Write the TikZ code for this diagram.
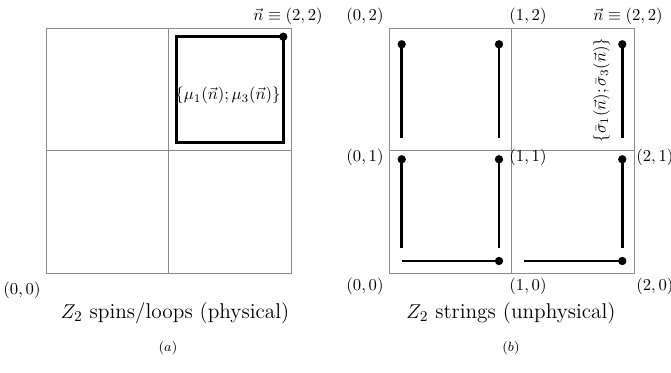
\documentclass[tikz,border=0pt]{standalone}
\begin{document}
\begin{tikzpicture}[x=0.6pt,y=-0.6pt,
  gridline/.style={draw=black!45,line width=0.6pt},
  strand/.style={line width=1.7pt,line cap=butt},
  site/.style={circle,fill=black,inner sep=0pt,minimum size=5pt},
  lbl/.style={inner sep=0pt,font=\normalsize},
  captext/.style={inner sep=0pt,font=\fontsize{12.8}{15}\selectfont},
  sublbl/.style={inner sep=0pt,font=\footnotesize}]
\useasboundingbox (0,0) rectangle (671,372);
% ---------- panel (a) ----------
\draw[gridline] (46,28) rectangle (291,273);
\draw[gridline] (168.5,28) -- (168.5,273);
\draw[gridline] (46,150.5) -- (291,150.5);
\coordinate (a1) at (176.7,142.7);
\coordinate (a2) at (176.7,36.7);
\coordinate (a4) at (283.3,142.7);
\node[site] (adot) at (283.3,36.7) {};
\draw[strand,line join=miter] (adot.center) -- (a2) -- (a1) -- (a4) -- cycle;
\node[lbl] (mu) at (228,95.5) {$\{\mu_1(\vec n);\mu_3(\vec n)\}$};
\node[lbl] (an) at (288,16) {$\vec n\equiv(2,2)$};
\node[lbl] (a00) at (22,290) {$(0,0)$};
\node[captext] (acap) at (175,313) {$Z_2$ spins/loops (physical)};
\node[sublbl] (asub) at (168,348) {$(a)$};
% ---------- panel (b) ----------
\draw[gridline] (389,28) rectangle (634,273);
\draw[gridline] (511.5,28) -- (511.5,273);
\draw[gridline] (389,150.5) -- (634,150.5);
% top-left cell
\node[site] (d1) at (401.7,44.3) {};
\coordinate (e1) at (401.7,138.3);
\node[site] (d2) at (499,44.3) {};
\coordinate (e2) at (499,138.3);
\draw[strand] (d1.center) -- (e1);
\draw[strand] (d2.center) -- (e2);
% top-right cell
\node[site] (d3) at (622.3,44.3) {};
\coordinate (e3) at (622.3,138.3);
\draw[strand] (d3.center) -- (e3);
% bottom-left cell
\node[site] (d4) at (401.7,159.3) {};
\coordinate (e4) at (401.7,248.3);
\node[site] (d5) at (499,159.3) {};
\coordinate (e5) at (499,248.3);
\node[site] (d6) at (499,261) {};
\coordinate (e6) at (401.7,261);
\draw[strand] (d4.center) -- (e4);
\draw[strand] (d5.center) -- (e5);
\draw[strand] (e6) -- (d6.center);
% bottom-right cell
\node[site] (d7) at (622.3,159.3) {};
\coordinate (e7) at (622.3,248.3);
\node[site] (d8) at (622.3,261) {};
\coordinate (e8) at (524.3,261);
\draw[strand] (d7.center) -- (e7);
\draw[strand] (e8) -- (d8.center);
% labels
\node[lbl,rotate=90] (sig) at (601.5,90) {$\{\bar\sigma_1(\vec n);\bar\sigma_3(\vec n)\}$};
\node[lbl] (b02) at (365,16) {$(0,2)$};
\node[lbl] (b12) at (528,16) {$(1,2)$};
\node[lbl] (b22) at (628,16) {$\vec n\equiv(2,2)$};
\node[lbl] (b01) at (365,157) {$(0,1)$};
\node[lbl] (b11) at (528,157) {$(1,1)$};
\node[lbl,anchor=west] (b21) at (636,157) {$(2,1)$};
\node[lbl] (b00) at (365,286) {$(0,0)$};
\node[lbl] (b10) at (528,286) {$(1,0)$};
\node[lbl,anchor=west] (b20) at (636,286) {$(2,0)$};
\node[captext] (bcap) at (511,313) {$Z_2$ strings (unphysical)};
\node[sublbl] (bsub) at (511,348) {$(b)$};
\end{tikzpicture}
\end{document}
